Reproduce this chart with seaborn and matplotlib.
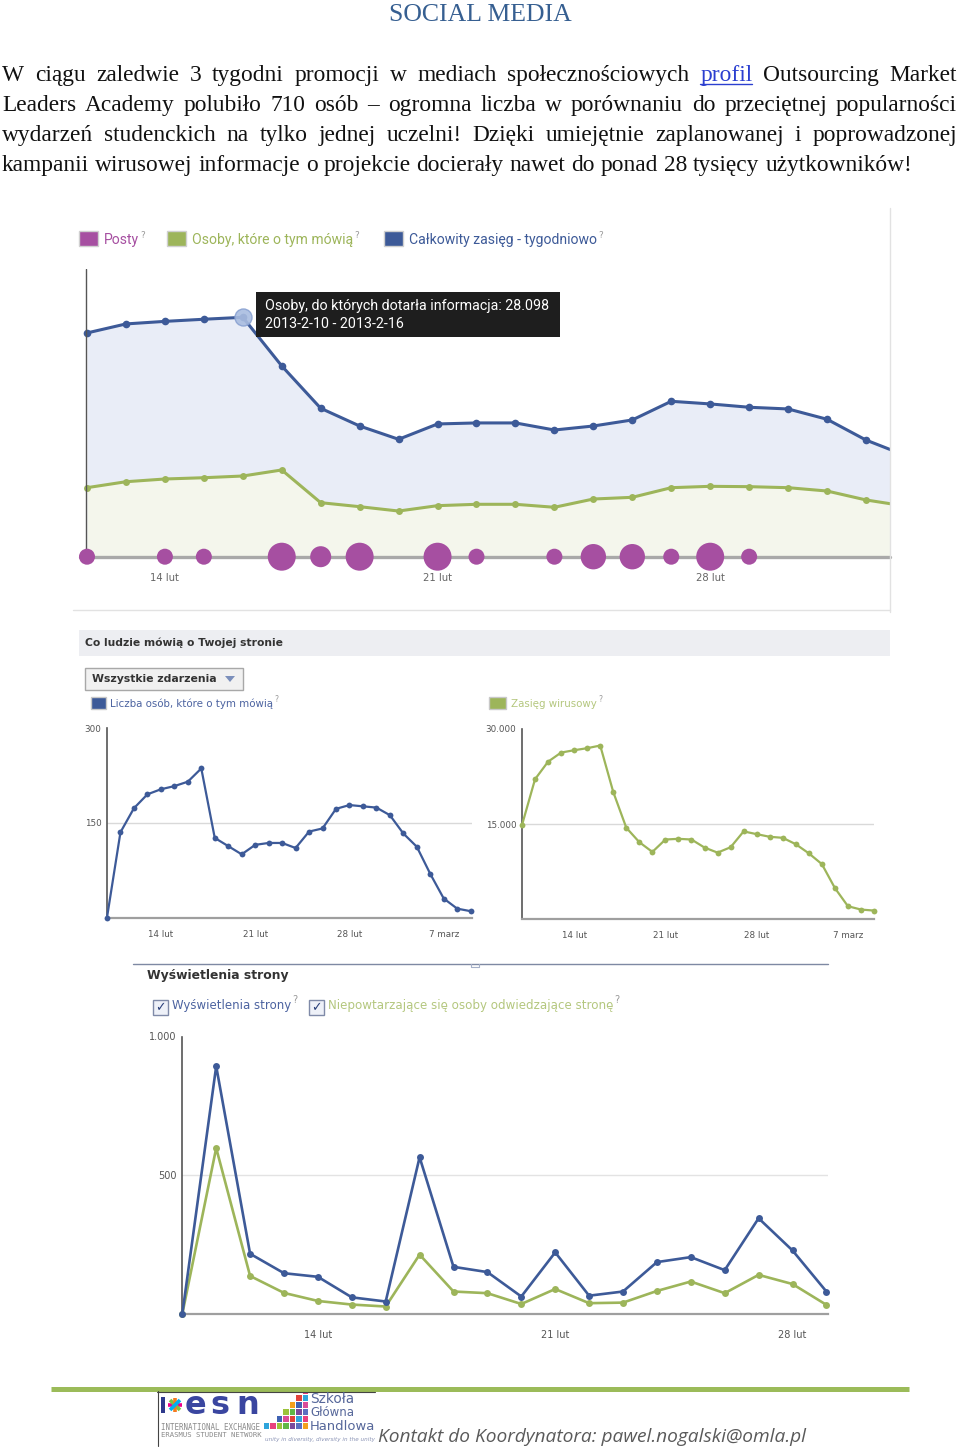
import numpy as np
import pandas as pd
import matplotlib
matplotlib.use("Agg")
import matplotlib.pyplot as plt
import matplotlib.patches as mpatches
import seaborn as sns

# ==========================
#  Dane
# ==========================
title_text = "SOCIAL MEDIA"
para_lines = [
    "W ciągu zaledwie 3 tygodni promocji w mediach społecznościowych profil Outsourcing Market",
    "Leaders Academy polubiło 710 osób – ogromna liczba w porównaniu do przeciętnej popularności",
    "wydarzeń studenckich na tylko jednej uczelni! Dzięki umiejętnie zaplanowanej i poprowadzonej",
    "kampanii wirusowej informacje o projekcie docierały nawet do ponad 28 tysięcy użytkowników!",
]
link_word = "profil"

# wykres 1 - zasięg tygodniowy (12 lut - 5 marz)
reach_days = list(range(22))
reach_ticks = {2: "14 lut", 9: "21 lut", 16: "28 lut"}
total_reach = [26260, 27320, 27620, 27870, 28098, 22390, 17420, 15340, 13780, 15580, 15700,
               15700, 14870, 15340, 16050, 18240, 17930, 17540, 17340, 16130, 13690, 11900]
talking_week = [8100, 8800, 9120, 9270, 9470, 10180, 6340, 5870, 5360, 5990, 6150,
                6150, 5800, 6770, 6970, 8100, 8260, 8220, 8100, 7710, 6660, 5950]
posts = [1, 0, 1, 1, 0, 4, 2, 4, 0, 4, 1, 0, 1, 3, 3, 1, 4, 1, 0, 0, 0, 0]
c1_legend = ["Posty", "Osoby, które o tym mówią", "Całkowity zasięg - tygodniowo"]
tooltip_idx = 4
tooltip_lines = ["Osoby, do których dotarła informacja: 28.098", "2013-2-10 - 2013-2-16"]

# wykres 2 - dzienne (10 lut - 9 marz)
talk_days = list(range(28))
talk_ticks = {4: "14 lut", 11: "21 lut", 18: "28 lut", 25: "7 marz"}
talking_daily = [0, 135, 173, 195, 203, 208, 215, 236, 126, 113, 100, 115, 118, 118,
                 110, 136, 141, 172, 178, 176, 174, 162, 133, 112, 69, 30, 14, 10]
viral_reach = [14840, 22070, 24840, 26280, 26650, 26970, 27390, 20050, 14410, 12130,
               10590, 12550, 12660, 12550, 11280, 10480, 11330, 13830, 13400, 12980,
               12820, 11810, 10370, 8670, 4890, 2020, 1490, 1330]
talk_yticks = [150, 300]
talk_ylabels = ["150", "300"]
viral_yticks = [15000, 30000]
viral_ylabels = ["15.000", "30.000"]

# wykres 3 - wyświetlenia strony (10 lut - 1 marz)
view_days = list(range(20))
view_ticks = {4: "14 lut", 11: "21 lut", 18: "28 lut"}
page_views = [0, 893, 217, 147, 134, 60, 45, 565, 170, 151, 63, 222, 66, 81, 187, 205,
              158, 345, 229, 81]
unique_visitors = [0, 598, 137, 76, 47, 34, 27, 214, 81, 75, 36, 90, 39, 41, 83, 117,
                   75, 141, 108, 33]
view_yticks = [500, 1000]
view_ylabels = ["500", "1.000"]

footer_text = "Kontakt do Koordynatora: pawel.nogalski@omla.pl"

# ==========================
#  Styl
# ==========================
sns.set_style("white")
plt.rcParams["font.family"] = ["DejaVu Sans"]

BLUE = "#3d5a98"
GREEN = "#9db55a"
PURPLE = "#a64fa1"
SERIF = ["Liberation Serif", "DejaVu Serif"]
NARROW = ["Roboto", "DejaVu Sans"]
SANS = ["DejaVu Sans"]

fig = plt.figure(figsize=(9.6, 14.48), dpi=100)
page = fig.add_axes([0, 0, 1, 1], zorder=10)
page.set_xlim(0, 960)
page.set_ylim(1448, 0)
page.axis("off")
page.patch.set_alpha(0)
renderer = fig.canvas.get_renderer()


def px_axes(x0, y0, x1, y1):
    return fig.add_axes([x0 / 960, 1 - y1 / 1448, (x1 - x0) / 960, (y1 - y0) / 1448])


def text_w(s, size, **kw):
    t = page.text(0, 0, s, fontsize=size, **kw)
    w = t.get_window_extent(renderer).width
    t.remove()
    return w


def fit(s, width, **kw):
    return 10 * width / text_w(s, 10, **kw)


def put(x, y, s, width, **kw):
    size = fit(s, width, **{k: v for k, v in kw.items() if k in ("family", "weight", "style")})
    page.text(x, y, s, fontsize=size, va="center", **kw)
    return x + width


def qmark(x, y, size=6.5):
    page.text(x + 1.5, y - 5, "?", fontsize=size, color="#9a9a9a", va="center")


# ==========================
#  Tytuł i akapit
# ==========================
tsize = fit(title_text, 183, family=SERIF)
page.text(480, 21, title_text, fontsize=tsize, family=SERIF, color="#365f91",
          ha="center", va="baseline")

bsize = fit(para_lines[-1], 908, family=SERIF)
space = text_w("a a", bsize, family=SERIF) - text_w("aa", bsize, family=SERIF)
for i, line in enumerate(para_lines):
    y = 81 + 30 * i
    words = line.split(" ")
    widths = [text_w(w, bsize, family=SERIF) for w in words]
    if i < len(para_lines) - 1:
        gap = (957 - 2 - sum(widths)) / (len(words) - 1)
    else:
        gap = space
    x = 2
    for w, wd in zip(words, widths):
        col = "#2b3fd0" if w == link_word else "#111111"
        page.text(x, y, w, fontsize=bsize, family=SERIF, color=col, va="baseline")
        if w == link_word:
            page.plot([x, x + wd], [y + 3, y + 3], color=col, lw=1)
        x += wd + gap

# ==========================
#  Wykres 1 - zasięg tygodniowy
# ==========================
df1 = pd.DataFrame({"day": reach_days, "reach": total_reach, "talking": talking_week,
                    "posts": posts})
df1["zero"] = 0
c1_x0, c1_dx = 87, 38.95
c1_base, c1_top = 556.7, 269
c1_scale = 28098 / (c1_base - 317.3)
ax1 = px_axes(80, c1_top, 890, c1_base)
ax1.set_xlim((80 - c1_x0) / c1_dx, (890 - c1_x0) / c1_dx)
ax1.set_ylim(0, (c1_base - c1_top) * c1_scale)
ax1.fill_between(df1["day"], 0, df1["reach"], color="#e9edf7", lw=0)
ax1.fill_between(df1["day"], 0, df1["talking"], color="#f4f6ec", lw=0)
sns.lineplot(data=df1, x="day", y="reach", ax=ax1, color=BLUE, linewidth=2.2,
             marker="o", markersize=5.5, markeredgewidth=0)
sns.lineplot(data=df1, x="day", y="talking", ax=ax1, color=GREEN, linewidth=2.2,
             marker="o", markersize=5, markeredgewidth=0)
ax1.scatter([tooltip_idx], [total_reach[tooltip_idx]], s=150, color="#a9bde0",
            edgecolor="#8aa2d2", alpha=0.9, zorder=3)
ax1.axvline((86 - c1_x0) / c1_dx, color="#555555", lw=1)
ax1.axhline(0, color="#a9a9a9", lw=2.4, clip_on=False, zorder=4)
sns.scatterplot(data=df1[df1["posts"] > 0], x="day", y="zero", size="posts",
                sizes={1: 133, 2: 229, 3: 334, 4: 406}, color=PURPLE, legend=False,
                linewidth=0, clip_on=False, zorder=5, ax=ax1)
ax1.set(xlabel="", ylabel="")
ax1.set_xticks(list(reach_ticks), labels=list(reach_ticks.values()))
ax1.set_yticks([])
ax1.tick_params(axis="x", length=0, pad=12, labelsize=7.2, labelcolor="#666666")
for s in ax1.spines.values():
    s.set_visible(False)
ax1.patch.set_alpha(0)

# ramka zrzutu
page.plot([890, 890], [208, 612], color="#e2e2e2", lw=1)
page.plot([73, 890], [610, 610], color="#e2e2e2", lw=1)

# legenda wykresu 1
lsize = fit(c1_legend[2], 188, family=NARROW)
for (lx, col, txt) in [(79, PURPLE, c1_legend[0]), (167, GREEN, c1_legend[1]),
                       (384, BLUE, c1_legend[2])]:
    page.add_patch(mpatches.Rectangle((lx, 231), 19, 15, facecolor=col,
                                      edgecolor="#d0d0d0", lw=1))
    page.text(lx + 25, 240, txt, fontsize=lsize, family=NARROW, color=col, va="center")
    qmark(lx + 25 + text_w(txt, lsize, family=NARROW), 240)

# dymek
page.add_patch(mpatches.Rectangle((256, 292), 304, 45, facecolor="#1e1e1e", lw=0))
tip_size = fit(tooltip_lines[0], 285, family=NARROW)
page.text(265, 306, tooltip_lines[0], fontsize=tip_size, family=NARROW, color="white",
          va="center")
page.text(265, 324, tooltip_lines[1], fontsize=tip_size, family=NARROW, color="white",
          va="center")

# ==========================
#  Wykres 2 - co ludzie mówią
# ==========================
page.add_patch(mpatches.Rectangle((79, 630), 811, 26, facecolor="#edeef2", lw=0))
put(85, 643, "Co ludzie mówią o Twojej stronie", 199, family=SANS, weight="bold",
    color="#333333")
page.add_patch(mpatches.Rectangle((85, 668), 158, 22, facecolor="#f1f1f1",
                                  edgecolor="#a8a8a8", lw=1))
put(92, 679, "Wszystkie zdarzenia", 125, family=SANS, weight="bold", color="#333333")
page.add_patch(mpatches.Polygon([[225, 676], [235, 676], [230, 682]], closed=True,
                                facecolor="#7b8fbb", lw=0))

page.add_patch(mpatches.Rectangle((91, 697), 15, 12, facecolor=BLUE, edgecolor="#c8c8c8",
                                  lw=1))
qmark(put(110, 704, "Liczba osób, które o tym mówią", 163, family=SANS, color="#4c63a0"),
      704, 5.5)
page.add_patch(mpatches.Rectangle((489, 697), 17, 12, facecolor=GREEN, edgecolor="#c8c8c8",
                                  lw=1))
qmark(put(511, 704, "Zasięg wirusowy", 86, family=SANS, color="#b4c77e"), 704, 5.5)


def small_chart(ax, days, values, color, xmax, ymax, yticks, ylabels, ticks,
                lw, ms, tsize, xpad, grid_col="#d9d9d9"):
    ax.set_xlim(0, xmax)
    ax.set_ylim(0, ymax)
    ax.axhline(yticks[0], color=grid_col, lw=1, zorder=0)
    sns.lineplot(x=days, y=values, ax=ax, color=color, linewidth=lw, marker="o",
                 markersize=ms, markeredgewidth=0, clip_on=False, zorder=3)
    ax.set(xlabel="", ylabel="")
    ax.set_yticks(yticks, labels=ylabels)
    ax.set_xticks(list(ticks), labels=list(ticks.values()))
    ax.tick_params(axis="y", length=0, pad=4, labelsize=tsize, labelcolor="#555555")
    ax.tick_params(axis="x", length=3, width=1, color="#9a9a9a", pad=xpad,
                   labelsize=tsize, labelcolor="#555555")
    for s in ["top", "right"]:
        ax.spines[s].set_visible(False)
    ax.spines["left"].set_color("#555555")
    ax.spines["left"].set_linewidth(1.2)
    ax.spines["bottom"].set_color("#9f9f9f")
    ax.spines["bottom"].set_linewidth(1.6)
    ax.patch.set_alpha(0)


ax2 = px_axes(107, 728, 472, 917.5)
small_chart(ax2, talk_days, talking_daily, BLUE, (472 - 107) / 13.47, 300,
            talk_yticks, talk_ylabels, talk_ticks, 1.6, 4.2, 6.3, 6)
ax3 = px_axes(522, 729, 874, 919)
small_chart(ax3, talk_days, viral_reach, GREEN, 27, 30000,
            viral_yticks, viral_ylabels, talk_ticks, 1.6, 4.2, 6.3, 5.5)

# ==========================
#  Wykres 3 - wyświetlenia strony
# ==========================
page.plot([133, 828], [963.5, 963.5], color="#7e89a3", lw=1)
page.plot([471, 471, 479, 479], [963.5, 967, 967, 963.5], color="#a5b0c8", lw=0.8)
put(147, 975, "Wyświetlenia strony", 142, family=SANS, weight="bold", color="#333333")
for bx, txt, col, w in [(153, "Wyświetlenia strony", "#4c63a0", 119),
                        (309, "Niepowtarzające się osoby odwiedzające stronę", "#b4c77e", 285)]:
    page.add_patch(mpatches.Rectangle((bx, 1000), 15, 15, facecolor="#eef1f8",
                                      edgecolor="#7f8aa8", lw=1))
    page.text(bx + 7.5, 1008, "✓", fontsize=9, color="#2a3f7a", ha="center", va="center")
    qmark(put(bx + 19, 1005, txt, w, family=SANS, color=col), 1005, 7)

ax4 = px_axes(182.3, 1036.5, 828, 1314)
small_chart(ax4, view_days, page_views, BLUE, (828 - 182.3) / 33.9, 1000,
            view_yticks, view_ylabels, view_ticks, 1.9, 5, 7, 8.5, grid_col="#e3e3e3")
sns.lineplot(x=view_days, y=unique_visitors, ax=ax4, color=GREEN, linewidth=1.9,
             marker="o", markersize=5, markeredgewidth=0, clip_on=False, zorder=2)
ax4.set(xlabel="", ylabel="")

# ==========================
#  Stopka
# ==========================
page.plot([51, 909], [1388.5, 1388.5], color="#9bbb59", lw=3.6, solid_capstyle="butt")
page.plot([157, 375], [1391.5, 1391.5], color="#444444", lw=0.8)
page.plot([157.5, 157.5], [1391, 1446], color="#444444", lw=0.8)

# logo ESN
page.add_patch(mpatches.Rectangle((161, 1397), 4, 16, facecolor="#2e3a8c", lw=0))
for ang, col in zip([0, 45, 90, 135], ["#ec008c", "#7ac143", "#f47b20", "#00aeef"]):
    dx, dy = 7 * np.cos(np.radians(ang)), 7 * np.sin(np.radians(ang))
    page.plot([175 - dx, 175 + dx], [1405 - dy, 1405 + dy], color=col, lw=2.6,
              solid_capstyle="butt")
for lx, ch in zip([185, 210, 236], "esn"):
    page.text(lx, 1414, ch, fontsize=23, family=SANS, weight="bold", color="#3a46a0",
              va="baseline")
put(161, 1427, "INTERNATIONAL EXCHANGE", 100, family=["DejaVu Sans Mono"], color="#8a8a8a")
put(161, 1435, "ERASMUS STUDENT NETWORK", 100, family=["DejaVu Sans Mono"], color="#8a8a8a")

# logo SGH
sq_cols = ["#e8417f", "#7b4a9c", "#3f62b3", "#2fa5dc", "#61b746", "#f4a11d", "#e2423a",
           "#9bc33b", "#5b6fc0", "#d94c9a"]
rows = [1, 2, 3, 4, 5, 7]
k = 0
for r, n in enumerate(rows):
    for j in range(n):
        page.add_patch(mpatches.Rectangle((302.5 - 6.5 * j, 1388 + 7 * r), 5.5, 6,
                                          facecolor=sq_cols[k % len(sq_cols)], lw=0))
        k += 3
for yy, word in zip([1399, 1413, 1427], ["Szkoła", "Główna", "Handlowa"]):
    put(310, yy, word, 44 if word != "Handlowa" else 65, family=SANS, color="#56679a")
put(265, 1440, "unity in diversity, diversity in the unity", 110, family=SANS,
    style="italic", color="#8a93b5")

put(378, 1437, footer_text, 428, family=["Open Sans", "DejaVu Sans"], style="italic",
    color="#5a5a5a")

fig.savefig("out.png", dpi=100)
